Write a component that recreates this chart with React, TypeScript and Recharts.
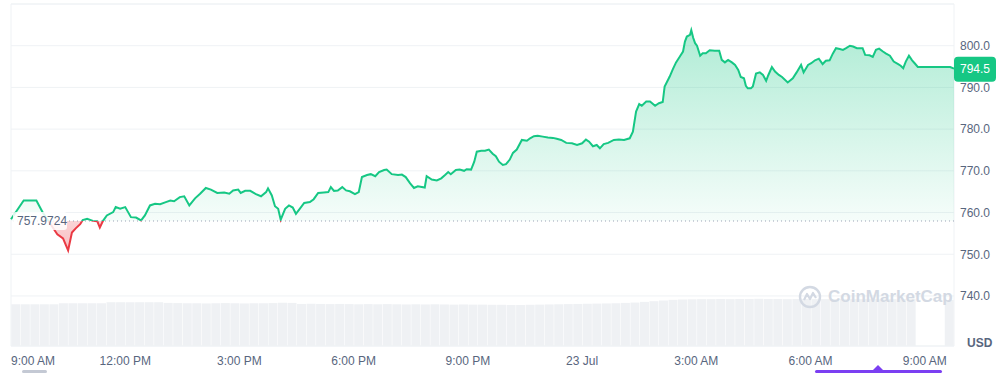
import {
  ComposedChart,
  BarChart,
  Area,
  Bar,
  XAxis,
  YAxis,
  CartesianGrid,
  ReferenceLine,
  ReferenceArea,
} from "recharts"

// minutes after 9:00 AM (22 Jul)
const priceTimes = [
  0, 20, 40, 50, 65, 73, 82, 90, 96, 102,
  109, 113, 120, 129, 136, 140, 145, 151, 161, 165,
  172, 180, 189, 197, 205, 211, 219, 227, 235, 244,
  251, 257, 266, 273, 281, 290, 298, 307, 315, 325,
  336, 344, 350, 358, 362, 369, 377, 386, 394, 402,
  405, 411, 416, 421, 425, 432, 438, 444, 449, 455,
  462, 471, 477, 484, 493, 500, 504, 509, 515, 522,
  528, 534, 542, 548, 553, 561, 567, 574, 580, 588,
  592, 600, 610, 616, 622, 629, 635, 641, 652, 655,
  663, 671, 678, 684, 689, 693, 701, 707, 714, 718,
  725, 730, 734, 741, 747, 753, 759, 764, 769, 775,
  780, 786, 791, 797, 805, 813, 818, 824, 830, 838,
  846, 854, 860, 867, 875, 884, 892, 900, 906, 911,
  917, 923, 928, 934, 941, 950, 958, 966, 975, 980,
  985, 990, 994, 1001, 1007, 1015, 1021, 1027, 1030, 1038,
  1043, 1048, 1054, 1059, 1062, 1065, 1070, 1072, 1075, 1078,
  1081, 1086, 1090, 1095, 1101, 1109, 1116, 1120, 1125, 1130,
  1136, 1141, 1146, 1150, 1155, 1158, 1161, 1166, 1169, 1174,
  1180, 1185, 1190, 1193, 1199, 1204, 1210, 1215, 1224, 1232,
  1238, 1245, 1249, 1256, 1261, 1267, 1273, 1279, 1284, 1290,
  1295, 1300, 1306, 1311, 1316, 1322, 1327, 1333, 1342, 1346,
  1353, 1358, 1363, 1368, 1374, 1379, 1385, 1391, 1398, 1402,
  1406, 1410, 1415, 1420, 1424, 1429, 1480, 1486,
]

const prices = [
  758.4, 762.9, 762.9, 760.0, 756.6, 754.8, 753.8, 750.9, 755.2, 756.2,
  757.2, 758.2, 758.5, 758.0, 757.9, 756.4, 758.0, 759.3, 760.1, 761.3,
  760.9, 761.3, 758.9, 758.8, 758.1, 759.3, 761.7, 762.1, 762.0, 762.5,
  762.9, 762.7, 763.7, 763.9, 761.7, 763.4, 764.5, 765.9, 765.5, 764.7,
  764.8, 764.5, 765.3, 765.5, 764.7, 765.2, 765.2, 764.4, 763.9, 764.9,
  765.8, 764.1, 761.5, 760.9, 758.3, 760.9, 761.7, 761.2, 759.7, 760.9,
  762.3, 762.5, 763.2, 764.7, 764.8, 764.9, 766.1, 765.2, 765.3, 766.1,
  765.3, 765.1, 764.4, 764.9, 768.5, 769.0, 769.2, 768.7, 769.7, 770.2,
  770.3, 769.2, 769.0, 769.1, 768.5, 767.0, 765.9, 766.3, 766.0, 768.7,
  767.9, 767.7, 768.2, 769.0, 769.7, 769.2, 770.2, 770.3, 770.0, 770.4,
  770.3, 772.2, 774.6, 774.8, 774.8, 775.1, 774.1, 773.5, 772.2, 771.4,
  771.6, 772.7, 774.3, 775.1, 777.4, 777.2, 777.8, 778.3, 778.4, 778.2,
  778.0, 777.9, 777.7, 777.4, 776.7, 776.6, 776.2, 776.6, 777.5, 777.0,
  775.9, 776.2, 775.4, 776.4, 776.7, 777.4, 777.5, 777.4, 777.8, 779.4,
  784.2, 786.0, 785.6, 786.6, 786.6, 785.6, 786.2, 786.5, 790.2, 792.6,
  794.4, 796.0, 797.4, 798.6, 801.0, 802.2, 802.6, 803.7, 801.9, 800.6,
  800.0, 797.6, 798.2, 798.2, 798.9, 798.8, 798.8, 796.6, 796.0, 796.6,
  796.0, 795.4, 794.2, 792.5, 792.2, 790.4, 789.8, 789.8, 790.2, 793.3,
  793.6, 793.0, 791.6, 792.8, 794.9, 793.8, 793.0, 792.5, 791.2, 792.2,
  793.6, 795.4, 793.6, 795.4, 795.8, 796.5, 796.9, 795.6, 796.4, 796.5,
  798.1, 799.4, 799.2, 799.0, 799.4, 800.0, 799.8, 799.4, 799.4, 797.8,
  797.7, 797.3, 799.0, 799.3, 798.6, 798.1, 797.6, 796.2, 795.6, 795.2,
  794.6, 796.2, 797.6, 796.5, 795.8, 794.9, 794.9, 794.5,
]

// 24h volume (billions USD), one bar per 15 minutes
const volumes = [
  2.44, 2.44, 2.44, 2.44, 2.44, 2.50, 2.50, 2.50, 2.50, 2.50,
  2.56, 2.56, 2.56, 2.56, 2.56, 2.56, 2.52, 2.51, 2.50, 2.50,
  2.49, 2.50, 2.51, 2.50, 2.49, 2.50, 2.50, 2.51, 2.53, 2.52,
  2.46, 2.47, 2.46, 2.45, 2.46, 2.45, 2.44, 2.45, 2.44, 2.45,
  2.44, 2.43, 2.44, 2.43, 2.44, 2.43, 2.42, 2.43, 2.42, 2.42,
  2.41, 2.41, 2.40, 2.40, 2.41, 2.42, 2.43, 2.44, 2.45, 2.46,
  2.47, 2.48, 2.49, 2.50, 2.52, 2.54, 2.58, 2.62, 2.66, 2.70,
  2.72, 2.73, 2.74, 2.74, 2.75, 2.74, 2.75, 2.75, 2.76, 2.75,
  2.75, 2.74, 2.75, 2.75, 2.74, 2.74, 2.75, 2.75, 2.74, 2.74,
  2.74, 2.73, 2.74, 2.74, 2.74, 0, 0, 0, 2.69,
]

const baseline = 757.9724
const xTicks = [0, 180, 360, 540, 720, 900, 1080, 1260, 1440]
const xLabels = ["9:00 AM", "12:00 PM", "3:00 PM", "6:00 PM", "9:00 PM", "23 Jul", "3:00 AM", "6:00 AM", "9:00 AM"]
const yTicks = [740, 750, 760, 770, 780, 790, 800]

const GREEN = "#16c784"
const RED = "#ea3943"
const TEXT = "#58667e"
const GRID = "#eff2f5"
const FONT = "'Liberation Sans', Arial, sans-serif"

const priceRows = priceTimes.map((t, i) => ({ t, price: prices[i] }))
const volRows = volumes.map((v, i) => ({ t: i * 15, vol: v }))

const maxP = Math.max(...prices)
const minP = Math.min(...prices)
const split = (maxP - baseline) / (maxP - minP)
const lastPrice = prices[prices.length - 1]

function TimeTick(props: any) {
  const { x, y, payload } = props
  const i = xTicks.indexOf(payload.value)
  return (
    <text x={x} y={y} dy="0.71em" textAnchor={i === 0 ? "start" : "middle"} fill={TEXT} fontSize={12} fontFamily={FONT}>
      {xLabels[i]}
    </text>
  )
}

function BaseLabel(props: any) {
  const { x, y } = props.viewBox
  return (
    <g>
      <rect x={x + 2} y={y - 9} width={54} height={18} rx={3} fill="#fff" fillOpacity={0.85} />
      <text x={x + 6} y={y} dy="0.36em" fill={TEXT} fontSize={12} fontFamily={FONT}>
        {baseline}
      </text>
    </g>
  )
}

function PriceTag(props: any) {
  const { x, y, width } = props.viewBox
  return (
    <g>
      <rect x={x + width} y={y - 12} width={42} height={25} rx={4} fill={GREEN} />
      <text x={x + width + 21} y={y} dy="0.36em" textAnchor="middle" fill="#fff" fontSize={12} fontFamily={FONT}>
        {lastPrice.toFixed(1)}
      </text>
    </g>
  )
}

export default function App() {
  return (
    <div style={{ position: "absolute", left: 0, top: 0, width: 1000, height: 373, background: "#fff", fontFamily: FONT }}>
      {/* volume bars, behind the price chart */}
      <div style={{ position: "absolute", left: 0, top: 0 }}>
        <BarChart width={1000} height={373} data={volRows} barCategoryGap="3%" margin={{ top: 4, right: 46, bottom: 27, left: 11 }}>
          <XAxis dataKey="t" hide />
          <YAxis hide domain={[0, 20]} />
          <Bar dataKey="vol" fill="#eff1f4" isAnimationActive={false} />
        </BarChart>
      </div>
      <div style={{ position: "absolute", left: 0, top: 0 }}>
        <ComposedChart width={1000} height={373} data={priceRows} margin={{ top: 4, right: 0, bottom: 0, left: 11 }}>
          <defs>
            <linearGradient id="priceStroke" x1="0" y1="0" x2="0" y2="1">
              <stop offset={0} stopColor={GREEN} />
              <stop offset={split} stopColor={GREEN} />
              <stop offset={split} stopColor={RED} />
              <stop offset={1} stopColor={RED} />
            </linearGradient>
            <linearGradient id="priceFill" x1="0" y1="0" x2="0" y2="1">
              <stop offset={0} stopColor={GREEN} stopOpacity={0.34} />
              <stop offset={split} stopColor={GREEN} stopOpacity={0.04} />
              <stop offset={split} stopColor={RED} stopOpacity={0.22} />
              <stop offset={1} stopColor={RED} stopOpacity={0.32} />
            </linearGradient>
          </defs>
          <XAxis
            dataKey="t"
            type="number"
            domain={[0, 1486]}
            ticks={xTicks}
            interval={0}
            axisLine={false}
            tickLine={false}
            tickSize={0}
            tickMargin={10}
            height={27}
            tick={<TimeTick />}
          />
          <YAxis
            orientation="right"
            domain={[728, 810]}
            ticks={yTicks}
            allowDataOverflow
            tickFormatter={(v: number) => v.toFixed(1)}
            axisLine={false}
            tickLine={false}
            tickSize={0}
            tickMargin={6}
            width={46}
            tick={{ fill: TEXT, fontSize: 12, fontFamily: FONT, textAnchor: "start" }}
          />
          <CartesianGrid vertical={false} stroke={GRID} />
          <ReferenceArea x1={0} x2={1486} y1={728} y2={810} fill="none" stroke={GRID} />
          <Area
            type="linear"
            dataKey="price"
            baseValue={baseline}
            stroke="url(#priceStroke)"
            strokeWidth={2}
            fill="url(#priceFill)"
            fillOpacity={1}
            dot={false}
            activeDot={false}
            isAnimationActive={false}
          />
          <ReferenceLine y={baseline} stroke="#9aa3b5" strokeDasharray="1 3" label={BaseLabel} />
          <ReferenceLine y={lastPrice} stroke="none" label={PriceTag} />
        </ComposedChart>
      </div>
      <div style={{ position: "absolute", left: 967, top: 336, fontSize: 12, fontWeight: 700, color: TEXT }}>USD</div>
      <div style={{ position: "absolute", left: 798, top: 285, display: "flex", alignItems: "center", gap: 6, color: "#d3d9e3", fontSize: 17, fontWeight: 700, pointerEvents: "none" }}>
        <svg width={24} height={24} viewBox="0 0 24 24">
          <circle cx={12} cy={12} r={10} fill="none" stroke="#d3d9e3" strokeWidth={2.4} />
          <path d="M6 15 L9 9 L12 14 L15 8 L18 13" fill="none" stroke="#d3d9e3" strokeWidth={2.2} strokeLinejoin="round" />
        </svg>
        <span>CoinMarketCap</span>
      </div>
      <div style={{ position: "absolute", left: 22, top: 370, width: 25, height: 3, borderRadius: 2, background: "#c4c9d4" }} />
      <div style={{ position: "absolute", left: 815, top: 370, width: 127, height: 3, borderRadius: 2, background: "#7b3ff2" }} />
      <div style={{ position: "absolute", left: 873, top: 365, width: 0, height: 0, borderLeft: "5px solid transparent", borderRight: "5px solid transparent", borderBottom: "5px solid #7b3ff2" }} />
    </div>
  )
}
